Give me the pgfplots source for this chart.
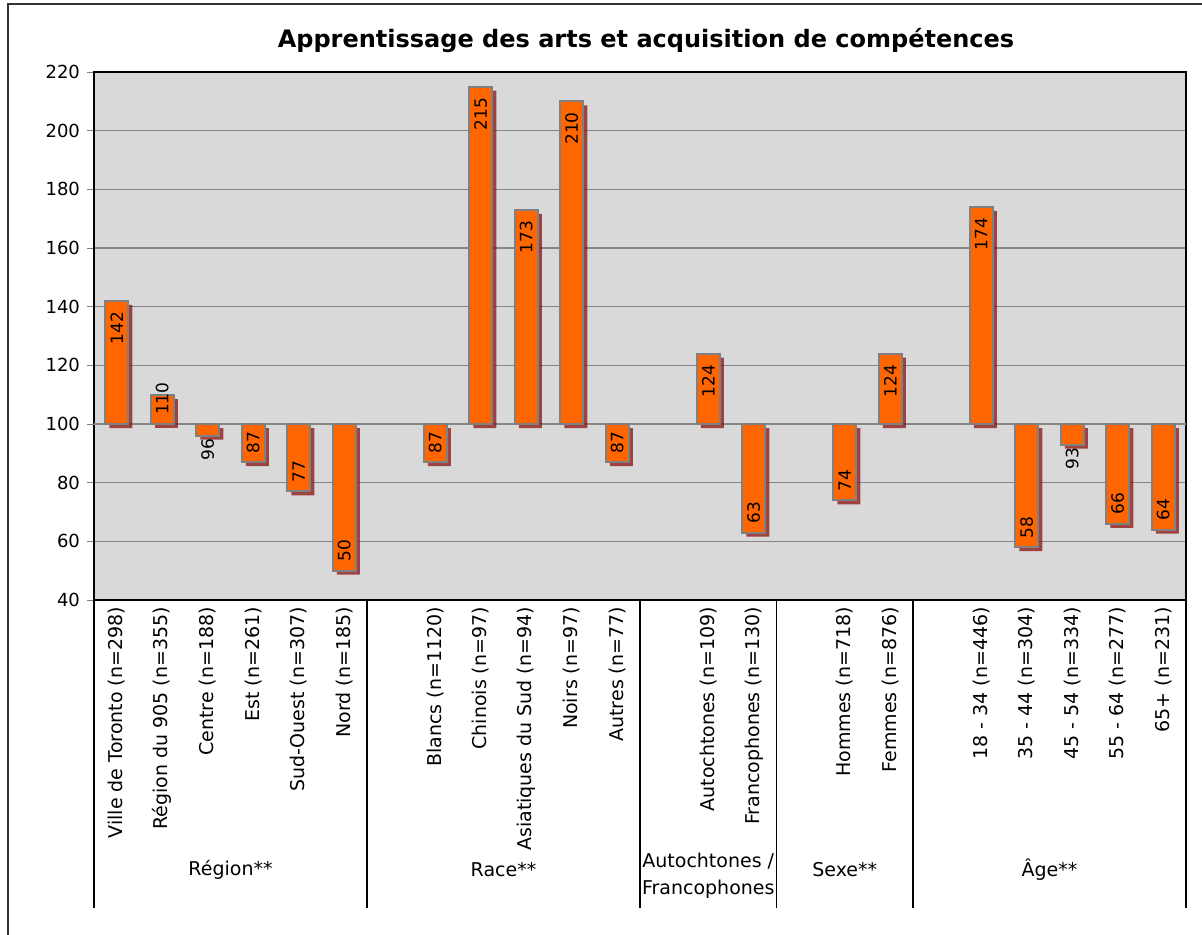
\documentclass[border=0pt]{standalone}
\usepackage{fontspec}
\setmainfont{DejaVu Sans}
\usepackage{pgfplots}
\pgfplotsset{compat=1.18}
\usetikzlibrary{shadows}
\definecolor{barorange}{HTML}{FF6600}
\definecolor{barborder}{HTML}{808080}
\definecolor{plotbg}{HTML}{D9D9D9}
\definecolor{gridgray}{HTML}{868686}
\definecolor{shadowred}{HTML}{8B1010}
\begin{document}
\begin{tikzpicture}
\pgfplotsset{
  barstyle/.style={ybar, bar width=11.5pt, bar shift=0pt, fill=barorange,
    draw=barborder, line width=1pt,
    drop shadow={shadow xshift=2pt, shadow yshift=-2pt, fill=shadowred,
      opacity=0.75, draw=none},
    point meta=rawy, nodes near coords,
    nodes near coords style={font=\fontsize{8.5}{9}\selectfont, black, rotate=90}},
}
\begin{axis}[
  scale only axis, width=546pt, height=264pt,
  xmin=-0.5, xmax=23.5, ymin=40, ymax=220,
  y coord trafo/.code={\pgfmathparse{#1-100}},
  y coord inv trafo/.code={\pgfmathparse{#1+100}},
  /pgf/number format/assume math mode=true,
  ytick={40,60,...,220},
  xtick={0,1,2,3,4,5,7,8,9,10,11,13,14,16,17,19,20,21,22,23},
  xticklabels={Ville de Toronto (n=298), Région du 905 (n=355), Centre (n=188),
    Est (n=261), Sud-Ouest (n=307), Nord (n=185),
    Blancs (n=1120), Chinois (n=97), Asiatiques du Sud (n=94), Noirs (n=97), Autres (n=77),
    Autochtones (n=109), Francophones (n=130),
    Hommes (n=718), Femmes (n=876),
    18 - 34 (n=446), 35 - 44 (n=304), 45 - 54 (n=334), 55 - 64 (n=277), 65+ (n=231)},
  xticklabel style={rotate=90, anchor=east, font=\fontsize{9.5}{10}\selectfont},
  yticklabel style={font=\fontsize{9}{10}\selectfont},
  x tick style={draw=none},
  ytick pos=left, ytick align=outside, major tick length=3.5pt,
  ymajorgrids, major grid style={gridgray, line width=0.6pt},
  extra y ticks={100}, extra y tick labels={},
  extra y tick style={grid style={black, line width=0.7pt}},
  axis background/.style={fill=plotbg},
  axis line style={black, line width=0.7pt},
  clip=false,
]
% up bars, label inside the top
\addplot[barstyle, nodes near coords style={anchor=east, inner xsep=5pt}] coordinates {
  (0,142) (8,215) (9,173) (10,210) (13,124) (17,124) (19,174)};
% short up bar, label on the top edge
\addplot[barstyle, nodes near coords style={anchor=center, xshift=-2pt}] coordinates {(1,110)};
% down bars, label inside the bottom
\addplot[barstyle, nodes near coords style={anchor=west, inner xsep=4pt}] coordinates {
  (3,87) (4,77) (5,50) (7,87) (11,87) (14,63) (16,74) (20,58) (22,66) (23,64)};
% short down bars, label below
\addplot[barstyle, nodes near coords style={anchor=east, inner xsep=1pt}] coordinates {
  (2,96) (21,93)};

\pgfplotsinvokeforeach{-0.5,5.5,11.5,14.5,17.5,23.5}{
  \draw[black, line width=0.7pt] (axis cs:#1,40) -- ([yshift=-154pt]axis cs:#1,40);
}
\node[font=\fontsize{9.5}{10}\selectfont, yshift=-135pt] at (axis cs:2.5,40) {Région**};
\node[font=\fontsize{9.5}{10}\selectfont, yshift=-135pt] at (axis cs:8.5,40) {Race**};
\node[font=\fontsize{9.5}{13.5}\selectfont, align=center, yshift=-138pt] at (axis cs:13,40) {Autochtones /\\Francophones};
\node[font=\fontsize{9.5}{10}\selectfont, yshift=-135pt] at (axis cs:16,40) {Sexe**};
\node[font=\fontsize{9.5}{10}\selectfont, yshift=-135pt] at (axis cs:20.5,40) {Âge**};
\node[font=\bfseries\fontsize{12}{14}\selectfont, anchor=base, yshift=12.5pt, xshift=3pt]
  at (rel axis cs:0.5,1) {Apprentissage des arts et acquisition de compétences};
\coordinate (sw) at (rel axis cs:0,0);
\end{axis}
\draw[black!80, line width=0.6pt] ([shift={(-43pt,-170pt)}]sw) -- ([shift={(-43pt,298pt)}]sw) -- ([shift={(560pt,298pt)}]sw);
\pgfresetboundingbox
\path[use as bounding box] ([shift={(-47pt,-167pt)}]sw) rectangle ([shift={(554pt,300pt)}]sw);
\end{tikzpicture}
\end{document}
